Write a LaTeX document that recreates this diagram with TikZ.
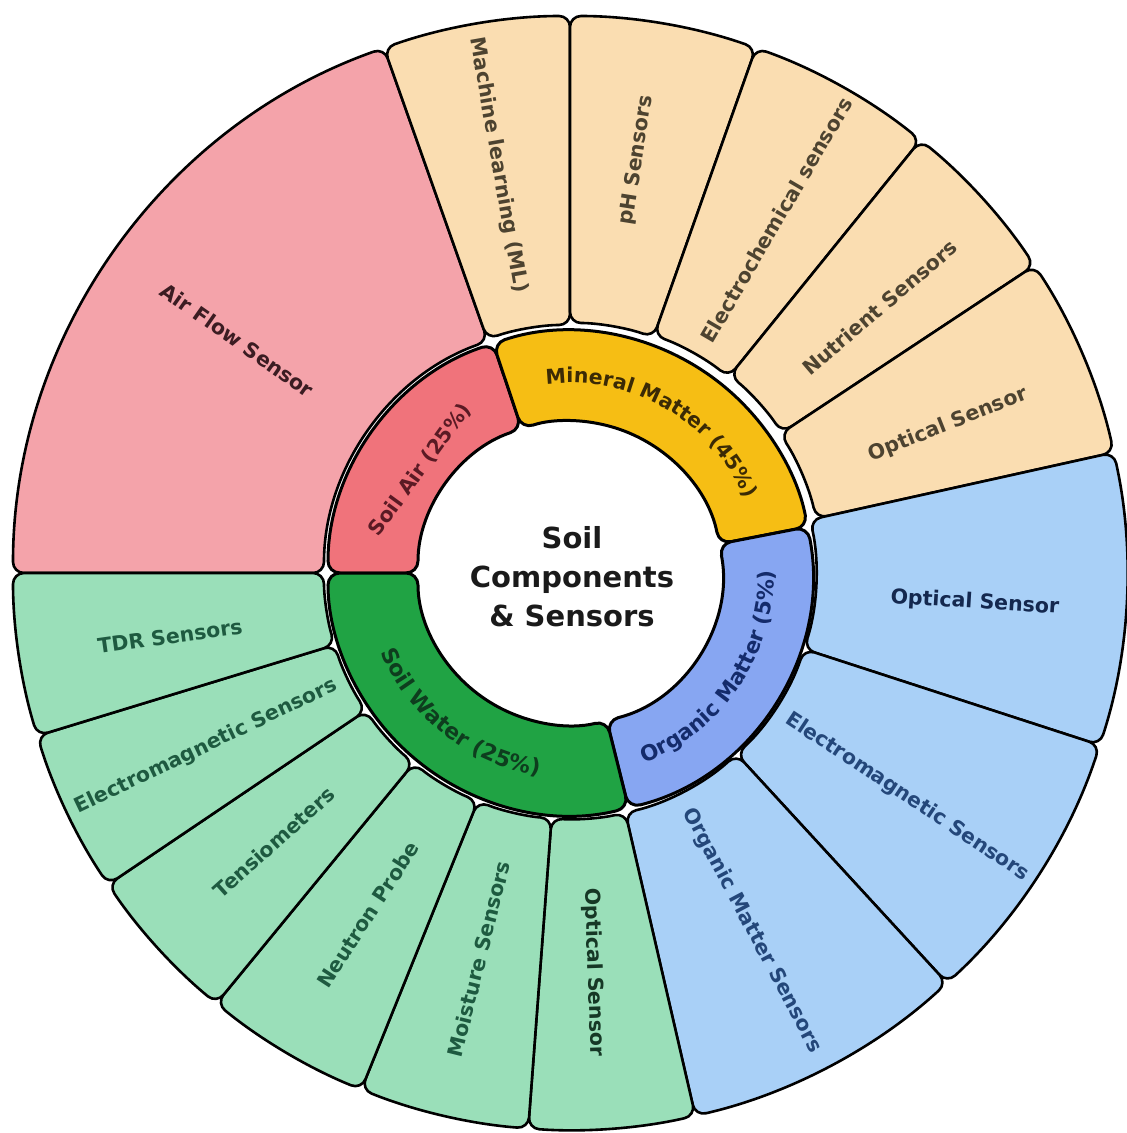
\documentclass[tikz,border=0pt]{standalone}
\usepackage{fontspec}
\setmainfont{DejaVu Sans}
\usetikzlibrary{decorations.text,calc}
\definecolor{airOut}{HTML}{F4A3AA}
\definecolor{airIn}{HTML}{F0737B}
\definecolor{minOut}{HTML}{FADDB1}
\definecolor{minIn}{HTML}{F6BE14}
\definecolor{orgOut}{HTML}{A9D0F7}
\definecolor{orgIn}{HTML}{87A6F2}
\definecolor{watOut}{HTML}{9ADFB9}
\definecolor{watIn}{HTML}{20A344}
\definecolor{airTxt}{HTML}{3B1C22}
\definecolor{airInTxt}{HTML}{5A1A24}
\definecolor{minTxt}{HTML}{4D4330}
\definecolor{minInTxt}{HTML}{3B2A05}
\definecolor{orgTxt}{HTML}{24477A}
\definecolor{orgTxtB}{HTML}{14284F}
\definecolor{orgInTxt}{HTML}{142B6B}
\definecolor{watTxt}{HTML}{1E5A40}
\definecolor{watTxtB}{HTML}{163826}
\definecolor{watInTxt}{HTML}{0E3D1E}
\definecolor{ctrTxt}{HTML}{1A1A1A}
% annular sector: style, angle1, angle2, inner radius, outer radius
\newcommand\annseg[5]{%
  \draw[#1] ($(#2:#4)!0.5!(#2:#5)$) -- (#2:#5) arc[start angle=#2, end angle=#3, radius=#5]
    -- (#3:#4) arc[start angle=#3, end angle=#2, radius=#4] -- cycle;}
\begin{document}
\begin{tikzpicture}[
  seg/.style={draw=black, line width=2.6pt, rounded corners=11pt, line join=round},
  iseg/.style={draw=black, line width=3pt, rounded corners=12pt, line join=round},
  lbl/.style={font=\fontsize{20.5}{24}\selectfont\bfseries, inner sep=0pt},
  ilbl/.style={font=\fontsize{20.5}{24}\selectfont\bfseries, inner sep=0pt},
]
\useasboundingbox (-570pt,-560pt) rectangle (557pt,573pt);

% ---- outer ring ----
\annseg{seg, fill=airOut}{180}{109.5}{246pt}{557pt}
\annseg{seg, fill=minOut}{109.5}{90}{248pt}{557pt}
\annseg{seg, fill=minOut}{90}{70.5}{250pt}{557pt}
\annseg{seg, fill=minOut}{70.5}{51}{252pt}{557pt}
\annseg{seg, fill=minOut}{51}{33.5}{254pt}{557pt}
\annseg{seg, fill=minOut}{33.5}{12.5}{252pt}{557pt}
\annseg{seg, fill=orgOut}{12.5}{-18}{246pt}{557pt}
\annseg{seg, fill=orgOut}{-18}{-47.4}{246pt}{557pt}
\annseg{seg, fill=orgOut}{-47.4}{-77}{246pt}{557pt}
\annseg{seg, fill=watOut}{-77}{-94.3}{246pt}{557pt}
\annseg{seg, fill=watOut}{-94.3}{-112}{246pt}{557pt}
\annseg{seg, fill=watOut}{-112}{-129.4}{246pt}{557pt}
\annseg{seg, fill=watOut}{-129.4}{-146}{246pt}{557pt}
\annseg{seg, fill=watOut}{-146}{-163}{246pt}{557pt}
\annseg{seg, fill=watOut}{-163}{-180}{246pt}{557pt}

% ---- inner ring ----
\annseg{iseg, fill=airIn}{180}{108.5}{152pt}{242pt}
\annseg{iseg, fill=minIn}{108.5}{11}{152pt}{242pt}
\annseg{iseg, fill=orgIn}{11}{-76}{152pt}{242pt}
\annseg{iseg, fill=watIn}{-76}{-180}{152pt}{242pt}

% ---- outer labels ----
\node[lbl, text=airTxt, rotate=-35] (airflow) at (145:406pt) {Air Flow Sensor};
\node[lbl, text=minTxt, rotate=-80] (ml) at (100:414pt) {Machine learning (ML)};
\node[lbl, text=minTxt, rotate=81] (ph) at (80.8:418pt) {pH Sensors};
\node[lbl, text=minTxt, rotate=59.7] (echem) at (59.7:409pt) {Electrochemical sensors};
\node[lbl, text=minTxt, rotate=40.5] (nutr) at (40.6:408pt) {Nutrient Sensors};
\node[lbl, text=minTxt, rotate=21.6] (optmin) at (21.4:406pt) {Optical Sensor};
\node[lbl, text=orgTxtB, rotate=-3.5] (optorg) at (-4.2:406pt) {Optical Sensor};
\node[lbl, text=orgTxt, rotate=-33.5] (emorg) at (-33.6:405pt) {Electromagnetic Sensors};
\node[lbl, text=orgTxt, rotate=-62] (oms) at (-63:401pt) {Organic Matter Sensors};
\node[lbl, text=watTxtB, rotate=-88] (optwat) at (-86.6:400pt) {Optical Sensor};
\node[lbl, text=watTxt, rotate=76] (moist) at (-103.3:397pt) {Moisture Sensors};
\node[lbl, text=watTxt, rotate=57] (neutron) at (-120.6:397pt) {Neutron Probe};
\node[lbl, text=watTxt, rotate=42] (tens) at (-137.7:400pt) {Tensiometers};
\node[lbl, text=watTxt, rotate=25.5] (emwat) at (-154.5:403pt) {Electromagnetic Sensors};
\node[lbl, text=watTxt, rotate=8] (tdr) at (-171:405pt) {TDR Sensors};

% ---- inner labels ----
\node[ilbl, text=airInTxt, rotate=54] (soilair) at (145.4:182pt) {Soil Air (25\%)};
\path[decorate, decoration={text along path, text align=center, text color=minInTxt,
  text={|\fontsize{20.5}{24}\selectfont\bfseries|Mineral Matter (45{\%})}}]
  (108:190pt) arc[start angle=108, end angle=12, radius=190pt];
\path[decorate, decoration={text along path, text align=center, text color=orgInTxt,
  text={|\fontsize{21.5}{24}\selectfont\bfseries|Organic Matter (5{\%})}}]
  (-78:204pt) arc[start angle=-78, end angle=10, radius=204pt];
\path[decorate, decoration={text along path, text align=center, text color=watInTxt,
  text={|\fontsize{22}{24}\selectfont\bfseries|Soil Water (25{\%})}}]
  (-180:205pt) arc[start angle=-180, end angle=-76, radius=205pt];

% ---- centre ----
\node[font=\fontsize{29}{39}\selectfont\bfseries, text=ctrTxt, align=center] (title) at (2pt,-4pt)
  {Soil\\Components\\\& Sensors};
\end{tikzpicture}
\end{document}
